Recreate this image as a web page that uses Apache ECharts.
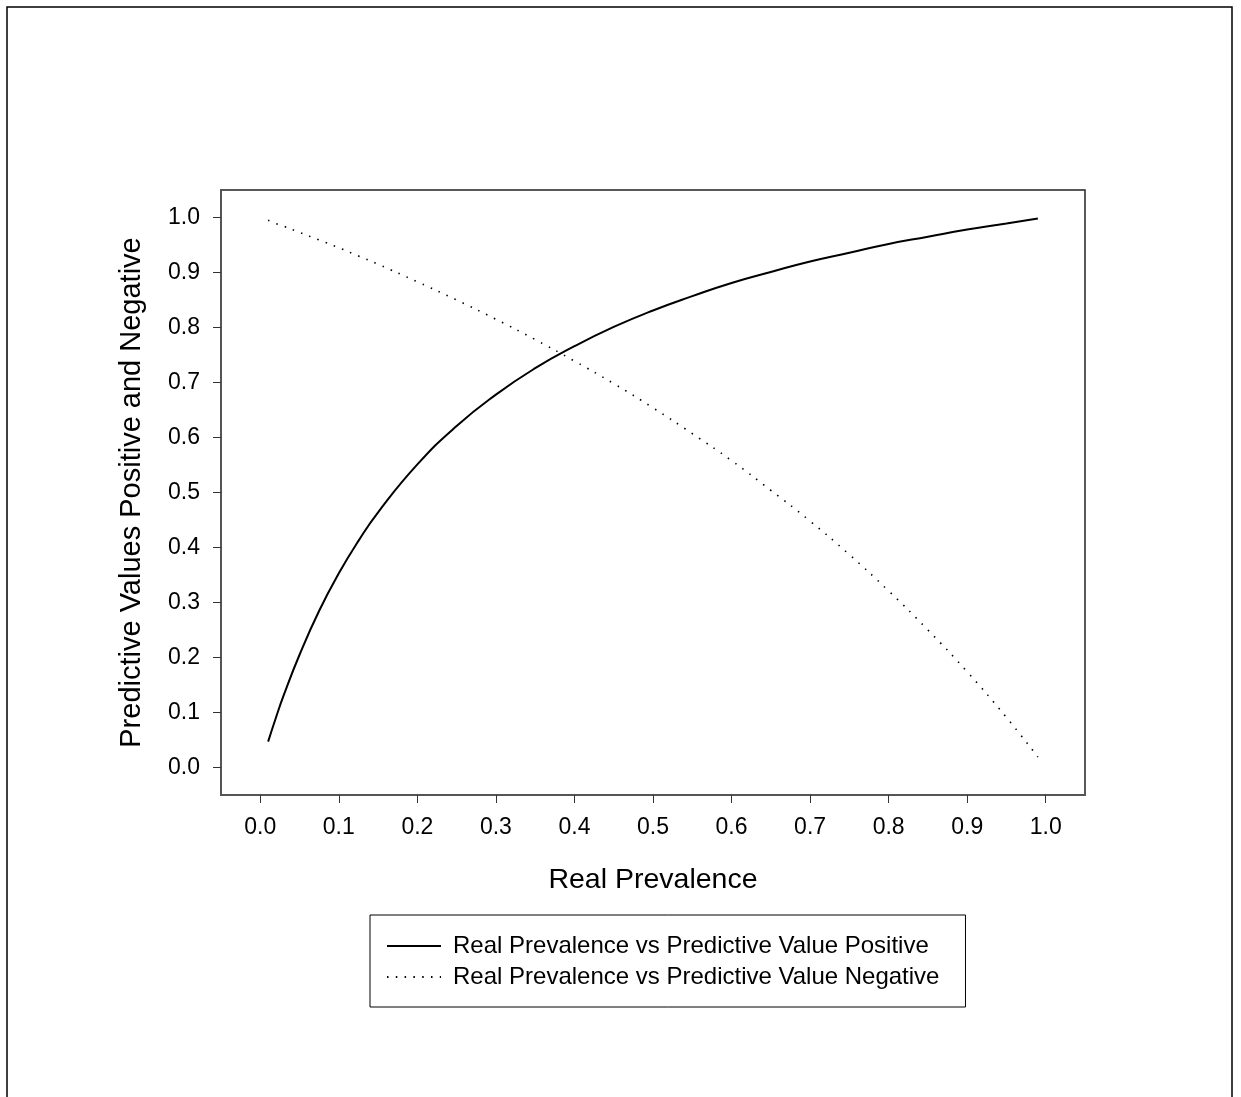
<!DOCTYPE html>
<html>
<head>
<meta charset="utf-8">
<script src="https://cdn.jsdelivr.net/npm/echarts@6/dist/echarts.min.js"></script>
<style>
html,body{margin:0;padding:0;background:#fff;}
#chart{width:1241px;height:1097px;}
</style>
</head>
<body>
<div id="chart"></div>
<script>
// Real prevalence (x)
var prevalence = [0.01,0.02,0.03,0.05,0.075,0.1,0.125,0.15,0.2,0.25,0.3,0.35,0.4,0.45,0.5,0.55,0.6,0.65,0.7,0.75,0.8,0.85,0.9,0.95,0.99];
// Predictive value positive (solid)
var ppv = [0.047,0.091,0.132,0.205,0.285,0.353,0.412,0.464,0.551,0.621,0.678,0.726,0.766,0.801,0.831,0.857,0.881,0.901,0.920,0.936,0.952,0.965,0.978,0.989,0.998];
// Predictive value negative (dotted)
var npv = [0.995,0.989,0.984,0.973,0.959,0.945,0.930,0.915,0.883,0.850,0.815,0.778,0.739,0.698,0.654,0.607,0.558,0.504,0.448,0.387,0.321,0.250,0.174,0.091,0.019];
var tickValues = [0,0.1,0.2,0.3,0.4,0.5,0.6,0.7,0.8,0.9,1.0];
var seriesNames = ['Real Prevalence vs Predictive Value Positive','Real Prevalence vs Predictive Value Negative'];
var xTitle = 'Real Prevalence';
var yTitle = 'Predictive Values Positive and Negative';

function pairs(xs, ys){ return xs.map(function(x,i){ return [x, ys[i]]; }); }

var FONT = '"Liberation Sans", Arial, sans-serif';
var chart = echarts.init(document.getElementById('chart'), null, {renderer:'canvas'});
chart.setOption({
  animation:false,
  backgroundColor:'#fff',
  textStyle:{fontFamily:FONT},
  graphic:[{
    type:'rect', silent:true, z:-1,
    shape:{x:7,y:7,width:1225,height:1200},
    style:{fill:'none',stroke:'#000',lineWidth:1.5}
  }],
  grid:{left:221,top:190,width:864,height:605,show:true,borderColor:'#222',borderWidth:1.5,backgroundColor:'transparent'},
  xAxis:{
    type:'value', min:-0.05, max:1.05,
    name:xTitle, nameLocation:'middle', nameGap:71,
    nameTextStyle:{fontSize:28.5,color:'#000',fontFamily:FONT},
    axisLine:{show:true,onZero:false,lineStyle:{color:'#555',width:2}},
    axisTick:{show:true,length:8,customValues:tickValues,lineStyle:{color:'#333',width:1}},
    axisLabel:{customValues:tickValues,margin:21,fontSize:23,color:'#000',fontFamily:FONT,
      formatter:function(v){return v.toFixed(1);}},
    splitLine:{show:false}
  },
  yAxis:{
    type:'value', min:-0.05, max:1.05,
    name:yTitle, nameLocation:'middle', nameGap:75, nameRotate:90,
    nameTextStyle:{fontSize:29,color:'#000',fontFamily:FONT},
    axisLine:{show:true,onZero:false,lineStyle:{color:'#555',width:2}},
    axisTick:{show:true,length:8,customValues:tickValues,lineStyle:{color:'#333',width:1}},
    axisLabel:{customValues:tickValues,margin:21,fontSize:23,color:'#000',fontFamily:FONT,
      formatter:function(v){return v.toFixed(1);}},
    splitLine:{show:false}
  },
  legend:{
    orient:'vertical', left:370, top:915,
    padding:[19,26,18,16],
    borderColor:'#000', borderWidth:1,
    itemWidth:54, itemHeight:14, itemGap:7,
    itemStyle:{opacity:0},
    textStyle:{fontSize:24,color:'#000',fontFamily:FONT,lineHeight:24,padding:[0,0,0,7]},
    data:seriesNames
  },
  series:[
    {name:seriesNames[0],type:'line',data:pairs(prevalence,ppv),smooth:true,symbol:'none',
     lineStyle:{color:'#000',width:2,type:'solid'},itemStyle:{color:'#000'}},
    {name:seriesNames[1],type:'line',data:pairs(prevalence,npv),smooth:true,symbol:'none',
     lineStyle:{color:'#000',width:1.6,type:[1.5,7.3]},itemStyle:{color:'#000'}}
  ]
});
</script>
</body>
</html>
